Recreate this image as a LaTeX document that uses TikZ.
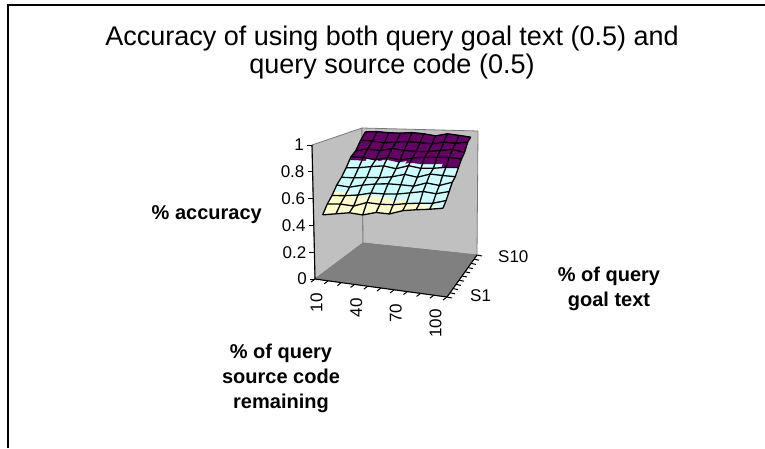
\documentclass[tikz,border=0pt]{standalone}
\usepackage{fontspec}
\setmainfont{Liberation Sans}
\usetikzlibrary{calc}
\definecolor{wallgray}{RGB}{192,192,192}
\definecolor{floorgray}{RGB}{128,128,128}
\definecolor{edgegray}{RGB}{120,120,120}
\definecolor{bandlow}{RGB}{255,255,204}
\definecolor{bandmid}{RGB}{204,255,255}
\definecolor{bandhigh}{RGB}{102,0,102}
% map (u,v,z) of the plot box to screen pixels (x right, y down)
\newcommand{\surfmap}[3]{%
  \pgfmathsetmacro{\qqa}{(1-#1)*(1-#2)}%
  \pgfmathsetmacro{\qqb}{#1*(1-#2)}%
  \pgfmathsetmacro{\qqc}{(1-#1)*#2}%
  \pgfmathsetmacro{\qqd}{#1*#2}%
  \pgfmathsetmacro{\mapX}{\qqa*315+\qqb*447+\qqc*363+\qqd*477+#3*(-3*\qqa+2*\qqb-1*\qqc+1*\qqd)}%
  \pgfmathsetmacro{\mapY}{\qqa*279+\qqb*297+\qqc*243+\qqd*255-#3*(134*\qqa+144*\qqb+115*\qqc+124*\qqd)}%
}
\tikzset{
  wallface/.style={fill=wallgray, draw=edgegray, line width=0.8pt, line join=round},
  floorface/.style={fill=floorgray, draw=floorgray, line width=0.5pt, line join=round},
  axisline/.style={black, line width=1.1pt},
  tickmark/.style={black, line width=1pt},
  ticklabel/.style={font=\fontsize{17}{17}\selectfont, inner sep=0pt},
  axtitle/.style={font=\bfseries\fontsize{20}{25}\selectfont, align=center, inner sep=0pt},
  charttitle/.style={font=\fontsize{27}{28}\selectfont, align=center, inner sep=0pt},
  gridline/.style={black, line width=1.3pt, line join=round},
  frameline/.style={black, line width=2pt},
}
\begin{document}
\begin{tikzpicture}[x=1pt, y=-1pt]
\useasboundingbox (0,0) rectangle (765,448);
\fill[white] (0,0) rectangle (765,448);
% chart frame (left and top edges only visible)
\coordinate (fbl) at (8,448);
\coordinate (ftl) at (8,5);
\coordinate (ftr) at (765,5);
\draw[frameline] (fbl) -- (ftl) -- (ftr);

% title
\node[charttitle] (title) at (392,53) {Accuracy of using both query goal text (0.5) and\\query source code (0.5)};

% box corners
\coordinate (A000) at (315,279);
\coordinate (A100) at (447,297);
\coordinate (A010) at (363,243);
\coordinate (A110) at (477,255);
\coordinate (A001) at (312,145);
\coordinate (A011) at (362,128);
\coordinate (A111) at (478,131);

% walls and floor
\filldraw[wallface] (A000) -- (A001) -- (A011) -- (A010) -- cycle;
\filldraw[wallface] (A010) -- (A011) -- (A111) -- (A110) -- cycle;
\filldraw[floorface] (A000) -- (A100) -- (A110) -- (A010) -- cycle;

% main grid z values
\foreach \i in {0,...,9}{
  \foreach \j in {0,...,9}{
    \pgfmathsetmacro{\sgU}{\i/9}
    \pgfmathsetmacro{\sgV}{\j/9}
    \pgfmathsetmacro{\sgZ}{0.47+0.12*\sgU+0.50*\sgV-0.12*\sgU*\sgV+0.012*sin(\i*\i*23.1+\j*\j*41.7+\i*\j*67.3+17)}
    \expandafter\xdef\csname zg-\i-\j\endcsname{\sgZ}
  }
}
% sub grid (3 x 3 per cell)
\foreach \p in {0,...,27}{
  \foreach \q in {0,...,27}{
    \pgfmathtruncatemacro{\gia}{min(floor(\p/3),8)}
    \pgfmathtruncatemacro{\gja}{min(floor(\q/3),8)}
    \pgfmathtruncatemacro{\gib}{\gia+1}
    \pgfmathtruncatemacro{\gjb}{\gja+1}
    \pgfmathsetmacro{\wsa}{(\p-3*\gia)/3}
    \pgfmathsetmacro{\wsb}{(\q-3*\gja)/3}
    \edef\zaa{\csname zg-\gia-\gja\endcsname}
    \edef\zba{\csname zg-\gib-\gja\endcsname}
    \edef\zab{\csname zg-\gia-\gjb\endcsname}
    \edef\zbb{\csname zg-\gib-\gjb\endcsname}
    \pgfmathsetmacro{\zv}{(1-\wsa)*(1-\wsb)*\zaa+\wsa*(1-\wsb)*\zba+(1-\wsa)*\wsb*\zab+\wsa*\wsb*\zbb}
    \pgfmathsetmacro{\sgU}{0.05+0.9*\p/27}
    \pgfmathsetmacro{\sgV}{0.05+0.9*\q/27}
    \surfmap{\sgU}{\sgV}{\zv}
    \coordinate (sg-\p-\q) at (\mapX,\mapY);
    \expandafter\xdef\csname zs-\p-\q\endcsname{\zv}
  }
}
% colour bands (back to front)
\foreach \q in {26,25,...,0}{
  \foreach \p in {0,...,26}{
    \pgfmathtruncatemacro{\pn}{\p+1}
    \pgfmathtruncatemacro{\qn}{\q+1}
    \edef\zca{\csname zs-\p-\q\endcsname}
    \edef\zcb{\csname zs-\pn-\q\endcsname}
    \edef\zcc{\csname zs-\p-\qn\endcsname}
    \edef\zcd{\csname zs-\pn-\qn\endcsname}
    \pgfmathsetmacro{\zc}{(\zca+\zcb+\zcc+\zcd)/4}
    \pgfmathtruncatemacro{\band}{(\zc>=0.6)+(\zc>=0.8)}
    \ifcase\band \def\bcol{bandlow}\or \def\bcol{bandmid}\else \def\bcol{bandhigh}\fi
    \filldraw[fill=\bcol, draw=\bcol, line width=0.5pt] (sg-\p-\q) -- (sg-\pn-\q) -- (sg-\pn-\qn) -- (sg-\p-\qn) -- cycle;
  }
}
% grid lines
\foreach \j in {0,...,9}{
  \pgfmathtruncatemacro{\qq}{3*\j}
  \draw[gridline] (sg-0-\qq) \foreach \i [evaluate=\i as \pp using int(3*\i)] in {1,...,9} { -- (sg-\pp-\qq) };
}
\foreach \i in {0,...,9}{
  \pgfmathtruncatemacro{\pp}{3*\i}
  \draw[gridline] (sg-\pp-0) \foreach \j [evaluate=\j as \qq using int(3*\j)] in {1,...,9} { -- (sg-\pp-\qq) };
}

% value axis
\draw[axisline] (A000) -- (A001);
\foreach \k/\lab in {0/0, 1/0.2, 2/0.4, 3/0.6, 4/0.8, 5/1}{
  \pgfmathsetmacro{\zt}{\k/5}
  \coordinate (vt-\k) at ({315-3*\zt},{279-134*\zt});
  \draw[tickmark] (vt-\k) -- ++(-5,0);
  \node[ticklabel, anchor=east] (vl-\k) at ($(vt-\k)+(-8,0)$) {\lab};
}
% category axis
\draw[axisline] (A000) -- (A100);
\foreach \k in {0,...,10}{
  \coordinate (ct-\k) at ($(A000)!\k/10!(A100)$);
  \draw[tickmark] (ct-\k) -- ++(-4,3);
}
\foreach \k/\lab in {0/10, 3/40, 6/70, 9/100}{
  \coordinate (cp-\k) at ($(A000)!{(\k+0.5)/10}!(A100)$);
  \node[ticklabel, rotate=90, anchor=east] (cl-\k) at ($(cp-\k)+(-5,13)$) {\lab};
}
% series axis
\draw[axisline] (A100) -- (A110);
\foreach \k in {0,...,10}{
  \coordinate (st-\k) at ($(A100)!\k/10!(A110)$);
  \draw[tickmark] (st-\k) -- ++(5,1);
}
\node[ticklabel, anchor=west] (sl-1) at (470,296) {S1};
\node[ticklabel, anchor=west] (sl-10) at (498,257) {S10};

% axis titles
\node[axtitle, anchor=east] (ztitle) at (262,215) {\% accuracy};
\node[axtitle] (xtitle) at (281,378) {\% of query\\source code\\remaining};
\node[axtitle] (ytitle) at (609,289) {\% of query\\goal text};
\end{tikzpicture}
\end{document}
